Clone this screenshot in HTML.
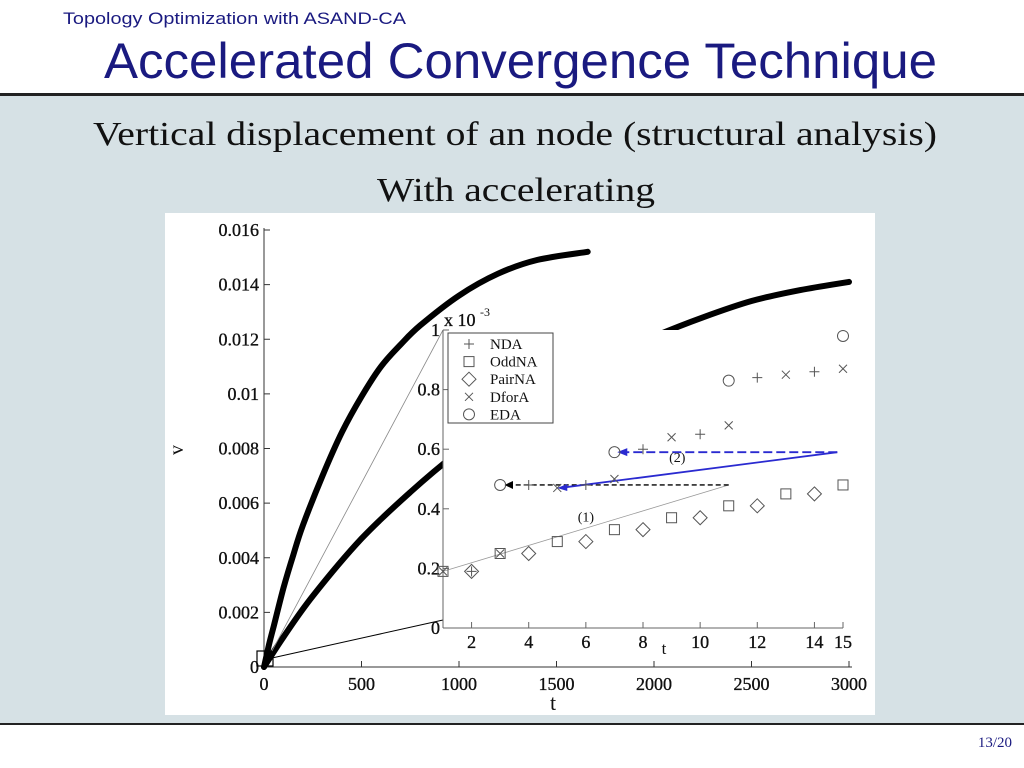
<!DOCTYPE html>
<html><head><meta charset="utf-8"><style>
html,body{margin:0;padding:0;width:1024px;height:768px;overflow:hidden;background:#fff}
svg{display:block}
</style></head><body>
<svg width="1024" height="768" xmlns="http://www.w3.org/2000/svg">
<rect x="0" y="0" width="1024" height="768" fill="#fff"/>
<rect x="0" y="95" width="1024" height="629" fill="#d6e1e5"/>
<rect x="0" y="93" width="1024" height="3" fill="#222"/>
<rect x="0" y="723" width="1024" height="2" fill="#222"/>
<text x="63" y="24" font-family="Liberation Sans, sans-serif" font-size="17" fill="#1a1a80" textLength="343" lengthAdjust="spacingAndGlyphs">Topology Optimization with ASAND-CA</text>
<text x="104" y="78" font-family="Liberation Sans, sans-serif" font-size="50" fill="#1a1a80" textLength="833" lengthAdjust="spacingAndGlyphs">Accelerated Convergence Technique</text>
<text x="93" y="145" font-family="Liberation Serif, serif" font-size="34" fill="#111" textLength="844" lengthAdjust="spacingAndGlyphs">Vertical displacement of an node (structural analysis)</text>
<text x="377" y="201" font-family="Liberation Serif, serif" font-size="34" fill="#111" textLength="278" lengthAdjust="spacingAndGlyphs">With accelerating</text>
<text x="1012" y="747" text-anchor="end" font-family="Liberation Serif, serif" font-size="15" fill="#1a1a80">13/20</text>
<rect x="165" y="213" width="710" height="502" fill="#fff"/>
<g id="main"></g>
</svg>
<script>
const NS='http://www.w3.org/2000/svg';
// main chart data
const mainXTicks=[0,500,1000,1500,2000,2500,3000];
const mainYTicks=[0,0.002,0.004,0.006,0.008,0.01,0.012,0.014,0.016];
const mainYLabels=['0','0.002','0.004','0.006','0.008','0.01','0.012','0.014','0.016'];
const accelT=[0,25,50,100,150,200,300,400,500,600,700,800,1000,1200,1400,1660];
const accelV=[0,0.0008,0.0015,0.0029,0.0041,0.0052,0.0070,0.0086,0.0099,0.0110,0.0118,0.0125,0.0136,0.0144,0.0149,0.0152];
const plainT=[0,100,250,500,750,1000,1250,1500,1750,2000,2250,2500,2750,3000];
const plainV=[0,0.0011,0.0026,0.0047,0.0064,0.0079,0.0092,0.0103,0.0113,0.0121,0.0128,0.0134,0.0138,0.0141];
// inset data (x 1e-3)
const insetXTicks=[2,4,6,8,10,12,14,15];
const insetYTicks=[0,0.2,0.4,0.6,0.8,1];
const insetYLabels=['0','0.2','0.4','0.6','0.8','1'];
const ndaT=[2,4,6,8,10,12,14];
const ndaV=[0.19,0.48,0.48,0.60,0.65,0.84,0.86];
const oddT=[1,3,5,7,9,11,13,15];
const oddV=[0.19,0.25,0.29,0.33,0.37,0.41,0.45,0.48];
const pairT=[2,4,6,8,10,12,14];
const pairV=[0.19,0.25,0.29,0.33,0.37,0.41,0.45];
const dforT=[1,3,5,7,9,11,13,15];
const dforV=[0.19,0.25,0.47,0.50,0.64,0.68,0.85,0.87];
const edaT=[3,7,11,15];
const edaV=[0.48,0.59,0.83,0.98];

const g=document.getElementById('main');
function el(tag,attrs,parent,text){const e=document.createElementNS(NS,tag);for(const k in attrs)e.setAttribute(k,attrs[k]);if(text!==undefined)e.textContent=text;(parent||g).appendChild(e);return e;}
const mx=t=>264+t*(849-264)/3000;
const my=v=>667-v*(667-230)/0.016;
const ix=t=>443+(t-1)*(843-443)/14;
const iy=v=>628-v*(628-330)/1;
const TF={'font-family':'Liberation Serif, serif','font-size':18,fill:'#111',stroke:'#111','stroke-width':0.35};

// main axes
let a=el('line',{x1:264,y1:228,x2:264,y2:667,stroke:'#333','stroke-width':1});

a=el('line',{x1:264,y1:667,x2:852,y2:667,stroke:'#333','stroke-width':1});

mainYTicks.forEach((v,i)=>{
  el('line',{x1:264,y1:my(v),x2:270,y2:my(v),stroke:'#333'});
  const t=el('text',Object.assign({x:259,y:my(v)+6,'text-anchor':'end'},TF),g,mainYLabels[i]);
  
});
mainXTicks.forEach(v=>{
  el('line',{x1:mx(v),y1:667,x2:mx(v),y2:661,stroke:'#333'});
  const t=el('text',Object.assign({x:mx(v),y:690,'text-anchor':'middle'},TF),g,String(v));
  
});
let lab=el('text',{x:553,y:710,'text-anchor':'middle','font-family':'Liberation Serif, serif','font-size':22,fill:'#111'},g,'t');

lab=el('text',{x:0,y:0,'text-anchor':'middle','font-family':'Liberation Serif, serif','font-size':20,fill:'#111',transform:'translate(183,450) rotate(-90)'},g,'v');


function smooth(T,V,fx,fy){
  const P=T.map((t,i)=>[fx(t),fy(V[i])]);
  let d='M'+P[0][0].toFixed(1)+','+P[0][1].toFixed(1);
  for(let i=0;i<P.length-1;i++){
    const p0=P[Math.max(0,i-1)],p1=P[i],p2=P[i+1],p3=P[Math.min(P.length-1,i+2)];
    const c1=[p1[0]+(p2[0]-p0[0])/6,p1[1]+(p2[1]-p0[1])/6];
    const c2=[p2[0]-(p3[0]-p1[0])/6,p2[1]-(p3[1]-p1[1])/6];
    d+=` C${c1[0].toFixed(1)},${c1[1].toFixed(1)} ${c2[0].toFixed(1)},${c2[1].toFixed(1)} ${p2[0].toFixed(1)},${p2[1].toFixed(1)}`;
  }
  return d;
}
let p=el('path',{d:smooth(accelT,accelV,mx,my),fill:'none',stroke:'#000','stroke-width':6,'stroke-linecap':'round','stroke-linejoin':'round'});

p=el('path',{d:smooth(plainT,plainV,mx,my),fill:'none',stroke:'#000','stroke-width':6,'stroke-linecap':'round','stroke-linejoin':'round'});


// zoom box and connector lines
let zb=el('rect',{x:257,y:651,width:16,height:15,fill:'none',stroke:'#000','stroke-width':1.2});

el('line',{x1:272,y1:651,x2:443,y2:330,stroke:'#888','stroke-width':0.8});
el('line',{x1:272,y1:658,x2:443,y2:620,stroke:'#000','stroke-width':1});

// inset
const ig=el('g',{});

el('rect',{x:443,y:330,width:408,height:298,fill:'#fff'},ig);
el('line',{x1:443,y1:330,x2:443,y2:628,stroke:'#666'},ig);
el('line',{x1:443,y1:628,x2:843,y2:628,stroke:'#666'},ig);
insetYTicks.forEach((v,i)=>{
  el('line',{x1:443,y1:iy(v),x2:449,y2:iy(v),stroke:'#666'},ig);
  const t=el('text',Object.assign({x:440,y:iy(v)+6,'text-anchor':'end'},TF),ig,insetYLabels[i]);
  
});
insetXTicks.forEach(v=>{
  el('line',{x1:ix(v),y1:628,x2:ix(v),y2:622,stroke:'#666'},ig);
  const t=el('text',Object.assign({x:ix(v),y:648,'text-anchor':'middle'},TF),ig,String(v));
  
});
let it=el('text',{x:664,y:654,'text-anchor':'middle','font-family':'Liberation Serif, serif','font-size':17,fill:'#111'},ig,'t');

it=el('text',Object.assign({x:444,y:326},TF),ig,'x 10');

el('text',{x:480,y:316,'font-family':'Liberation Serif, serif','font-size':12,fill:'#111'},ig,'-3');

// annotation lines
el('line',{x1:ix(1),y1:iy(0.19),x2:ix(11),y2:iy(0.48),stroke:'#999','stroke-width':0.8},ig);
el('line',{x1:ix(11),y1:iy(0.48),x2:ix(3.3),y2:iy(0.48),stroke:'#000','stroke-width':1.3,'stroke-dasharray':'5,3'},ig);
el('polygon',{points:`${ix(3.15)},${iy(0.48)} ${ix(3.45)},${iy(0.48)-4} ${ix(3.45)},${iy(0.48)+4}`,fill:'#000'},ig);
el('line',{x1:ix(14.8),y1:iy(0.59),x2:ix(5.1),y2:iy(0.47),stroke:'#2a2ad0','stroke-width':1.8},ig);
el('polygon',{points:`${ix(5)},${iy(0.47)} ${ix(5.35)},${iy(0.47)-4} ${ix(5.35)},${iy(0.47)+3}`,fill:'#2a2ad0'},ig);
el('line',{x1:ix(14.8),y1:iy(0.59),x2:ix(7.3),y2:iy(0.59),stroke:'#2a2ad0','stroke-width':1.8,'stroke-dasharray':'9,4'},ig);
el('polygon',{points:`${ix(7.1)},${iy(0.59)} ${ix(7.45)},${iy(0.59)-4} ${ix(7.45)},${iy(0.59)+4}`,fill:'#2a2ad0'},ig);
el('text',{x:ix(6),y:iy(0.37)+4,'text-anchor':'middle','font-family':'Liberation Serif, serif','font-size':14,fill:'#111'},ig,'(1)');
el('text',{x:ix(9.2),y:iy(0.57)+4,'text-anchor':'middle','font-family':'Liberation Serif, serif','font-size':14,fill:'#111'},ig,'(2)');

// markers
const ms='#555';
function marker(type,x,y,parent){
  const s={fill:'none',stroke:ms,'stroke-width':1};
  if(type==='plus')return el('path',Object.assign({d:`M${x-5},${y}H${x+5}M${x},${y-5}V${y+5}`},s),parent);
  if(type==='square')return el('rect',Object.assign({x:x-5,y:y-5,width:10,height:10},s),parent);
  if(type==='diamond')return el('path',Object.assign({d:`M${x},${y-7}L${x+7},${y}L${x},${y+7}L${x-7},${y}Z`},s),parent);
  if(type==='cross')return el('path',Object.assign({d:`M${x-4},${y-4}L${x+4},${y+4}M${x+4},${y-4}L${x-4},${y+4}`},s),parent);
  return el('circle',Object.assign({cx:x,cy:y,r:5.5},s),parent);
}
const series=[['plus',ndaT,ndaV,'nda-point'],['square',oddT,oddV,'oddna-point'],['diamond',pairT,pairV,'pairna-point'],['cross',dforT,dforV,'dfora-point'],['circle',edaT,edaV,'eda-point']];
series.forEach(s=>{s[1].forEach((t,i)=>{
  const m=marker(s[0],ix(t),iy(s[2][i]),ig);
  
  
});});

// legend
const lg=el('g',{},ig);

el('rect',{x:448,y:333,width:105,height:90,fill:'#fff',stroke:'#444','stroke-width':1},lg);
const names=['NDA','OddNA','PairNA','DforA','EDA'];
const types=['plus','square','diamond','cross','circle'];
names.forEach((n,i)=>{
  const y=344+i*17.6;
  marker(types[i],469,y,lg);
  const t=el('text',{x:490,y:y+5,'font-family':'Liberation Serif, serif','font-size':15,fill:'#111'},lg,n);
  
});
</script>
</body></html>
